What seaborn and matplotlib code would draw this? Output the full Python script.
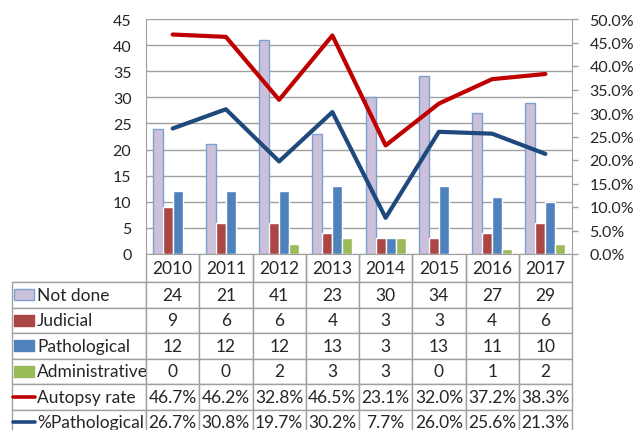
import matplotlib
matplotlib.use("Agg")
import matplotlib.pyplot as plt
import matplotlib.patches as mpatches
import matplotlib.lines as mlines
import matplotlib.ticker as mticker
import numpy as np
import pandas as pd
import seaborn as sns

years = ["2010", "2011", "2012", "2013", "2014", "2015", "2016", "2017"]
not_done = [24, 21, 41, 23, 30, 34, 27, 29]
judicial = [9, 6, 6, 4, 3, 3, 4, 6]
pathological = [12, 12, 12, 13, 3, 13, 11, 10]
administrative = [0, 0, 2, 3, 3, 0, 1, 2]
autopsy_rate = [46.7, 46.2, 32.8, 46.5, 23.1, 32.0, 37.2, 38.3]
pct_pathological = [26.7, 30.8, 19.7, 30.2, 7.7, 26.0, 25.6, 21.3]

bar_names = ["Not done", "Judicial", "Pathological", "Administrative"]
bar_colors = ["#CCC1DA", "#AA4643", "#4F81BD", "#9BBB59"]
line_names = ["Autopsy rate", "%Pathological"]
line_colors = ["#C00000", "#1F497D"]

bars = pd.DataFrame({
    "year": years * 4,
    "series": np.repeat(bar_names, len(years)),
    "count": not_done + judicial + pathological + administrative,
})
rates = pd.DataFrame({
    "year": years * 2,
    "series": np.repeat(line_names, len(years)),
    "rate": autopsy_rate + pct_pathological,
})

sns.set_style("white")
plt.rcParams["font.family"] = ["Lato", "DejaVu Sans"]
plt.rcParams["font.size"] = 11

W, H = 637, 431
fig = plt.figure(figsize=(W / 100, H / 100), dpi=100)
x0, x1, y0, y1 = 146, 572, 20, 255
ax = fig.add_axes([x0 / W, 1 - y1 / H, (x1 - x0) / W, (y1 - y0) / H])

sns.barplot(data=bars, x="year", y="count", hue="series", order=years,
            hue_order=bar_names, palette=bar_colors, width=0.75,
            saturation=1, legend=False, ax=ax, zorder=2)
for p in ax.containers[0]:
    p.set_edgecolor("#7E9FD0")
    p.set_linewidth(1)

ax.set_ylim(0, 45)
ax.set_yticks(range(0, 46, 5))
ax.set_xlim(-0.5, len(years) - 0.5)
ax.yaxis.grid(True, color="#A0A0A0", lw=1)
ax.set_axisbelow(True)
ax.set_xlabel("")
ax.set_ylabel("")
ax.set_xticks([])
ax.tick_params(axis="y", length=0, pad=10.5, labelsize=11.5)
for s in ["left", "right", "bottom", "top"]:
    ax.spines[s].set_color("#A0A0A0")
ax.spines["top"].set_visible(False)

ax2 = ax.twinx()
sns.pointplot(data=rates, x="year", y="rate", hue="series", order=years,
              hue_order=line_names, palette=line_colors, markers="",
              linestyles="-", errorbar=None, legend=False, ax=ax2, lw=3)
ax2.set_ylim(0, 50)
ax2.set_yticks(range(0, 51, 5))
ax2.yaxis.set_major_formatter(mticker.FuncFormatter(lambda v, p: f"{v:.1f}%"))
ax2.set_xlim(-0.5, len(years) - 0.5)
ax2.set_xlabel("")
ax2.set_ylabel("")
ax2.tick_params(axis="y", length=4.5, width=1, color="#A0A0A0", pad=8, labelsize=11.5)
for s in ["left", "right", "bottom", "top"]:
    ax2.spines[s].set_visible(False)

# data table under the plot
cell_text = []
for vals in [not_done, judicial, pathological, administrative]:
    cell_text.append([""] + [str(v) for v in vals])
for vals in [autopsy_rate, pct_pathological]:
    cell_text.append([""] + [f"{v:.1f}%" for v in vals])
row_labels = bar_names + line_names

col_w = [x0 - 12] + [(x1 - x0) / len(years)] * len(years)
header_h, row_h = 28, 25.5
tab_h = header_h + row_h * len(row_labels)
tab = ax.table(cellText=cell_text, colLabels=[""] + years, colWidths=col_w,
               cellLoc="center",
               bbox=[(12 - x0) / (x1 - x0), -tab_h / (y1 - y0),
                     (x1 - 12) / (x1 - x0), tab_h / (y1 - y0)])
tab.auto_set_font_size(False)
tab.set_fontsize(12.5)
for (r, c), cell in tab.get_celld().items():
    cell.set_edgecolor("#A0A0A0")
    cell.set_linewidth(1)
    cell.set_height(header_h if r == 0 else row_h)
    if r == 0 and c == 0:
        cell.visible_edges = "B"
    if c == 0 and r > 0:
        cell.get_text().set_text(row_labels[r - 1])
        cell.get_text().set_ha("left")
        cell._loc = "left"
        cell.PAD = 25 / col_w[0]
for c in range(1, len(years) + 1):
    tab[0, c].visible_edges = "BLR"

# legend keys in the label column
for i, col in enumerate(bar_colors):
    yc = y1 + header_h + row_h * (i + 0.5)
    ec = "#7E9FD0" if i == 0 else col
    fig.patches.append(mpatches.Rectangle((14 / W, 1 - (yc + 5.5) / H), 20 / W, 11 / H,
                                          facecolor=col, edgecolor=ec, lw=1,
                                          transform=fig.transFigure))
for i, col in enumerate(line_colors):
    yc = y1 + header_h + row_h * (i + 4.5)
    fig.lines.append(mlines.Line2D([13 / W, 35 / W], [1 - yc / H, 1 - yc / H],
                                   color=col, lw=2.6, solid_capstyle="round",
                                   transform=fig.transFigure))

plt.savefig("out.png", dpi=100)
